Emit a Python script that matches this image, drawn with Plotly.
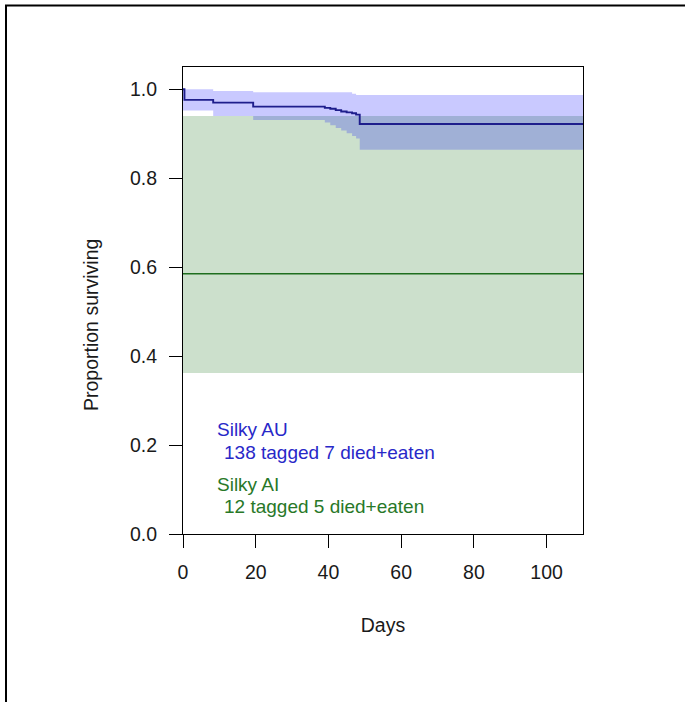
import plotly.graph_objects as go

# Kaplan-Meier survival estimates (step functions) with 95% confidence bands
au_days = [0, 0.4, 8.3, 19.3, 39.0, 40.5, 42.0, 43.5, 45.0, 46.5, 47.6, 48.6, 110]
au_surv = [1.0, 0.976, 0.970, 0.961, 0.958, 0.956, 0.953, 0.950, 0.948, 0.946, 0.943, 0.922, 0.922]

au_upper_days = [0, 8.3, 19.3, 46.5, 47.6, 110]
au_upper = [1.0, 0.996, 0.993, 0.990, 0.987, 0.987]

au_lower_days = [0, 8.3, 19.3, 39.0, 40.5, 42.0, 43.5, 45.0, 46.5, 47.6, 48.6, 110]
au_lower = [0.952, 0.940, 0.931, 0.925, 0.919, 0.913, 0.907, 0.901, 0.895, 0.889, 0.864, 0.864]

ai_days = [0, 110]
ai_surv = [0.585, 0.585]
ai_upper = [0.940, 0.940]
ai_lower = [0.362, 0.362]

x_ticks = [0, 20, 40, 60, 80, 100]
y_ticks = [0.0, 0.2, 0.4, 0.6, 0.8, 1.0]

au_label = ["Silky AU", "138 tagged 7 died+eaten"]
ai_label = ["Silky AI", "12 tagged 5 died+eaten"]

FONT = "Arial, 'Liberation Sans', sans-serif"
BLUE_LINE = "rgb(30,30,140)"
BLUE_FILL = "rgba(0,0,255,0.21)"
BLUE_TEXT = "rgb(40,40,200)"
GREEN_LINE = "rgb(30,110,30)"
GREEN_FILL = "rgba(0,100,0,0.2)"
GREEN_TEXT = "rgb(40,120,40)"
AXIS_TEXT = "#1a1a1a"

fig = go.Figure()

# green confidence band
fig.add_trace(go.Scatter(x=ai_days, y=ai_upper, mode="lines", line=dict(width=0, shape="hv"),
                         hoverinfo="skip", showlegend=False))
fig.add_trace(go.Scatter(x=ai_days, y=ai_lower, mode="lines", line=dict(width=0, shape="hv"),
                         fill="tonexty", fillcolor=GREEN_FILL, hoverinfo="skip", showlegend=False))

# blue confidence band
fig.add_trace(go.Scatter(x=au_upper_days, y=au_upper, mode="lines", line=dict(width=0, shape="hv"),
                         hoverinfo="skip", showlegend=False))
fig.add_trace(go.Scatter(x=au_lower_days, y=au_lower, mode="lines", line=dict(width=0, shape="hv"),
                         fill="tonexty", fillcolor=BLUE_FILL, hoverinfo="skip", showlegend=False))

# survival curves
fig.add_trace(go.Scatter(x=ai_days, y=ai_surv, mode="lines",
                         line=dict(color=GREEN_LINE, width=1.6, shape="hv"),
                         name=ai_label[0], showlegend=False))
fig.add_trace(go.Scatter(x=au_days, y=au_surv, mode="lines",
                         line=dict(color=BLUE_LINE, width=1.9, shape="hv"),
                         name=au_label[0], showlegend=False))

# legend-style text block
text_rows = [
    (au_label[0], 8.9, 0.234, BLUE_TEXT),
    (au_label[1], 10.7, 0.183, BLUE_TEXT),
    (ai_label[0], 8.9, 0.111, GREEN_TEXT),
    (ai_label[1], 10.7, 0.062, GREEN_TEXT),
]
for txt, tx, ty, col in text_rows:
    fig.add_annotation(x=tx, y=ty, xref="x", yref="y", text=txt, showarrow=False,
                       xanchor="left", yanchor="middle",
                       font=dict(family=FONT, size=19, color=col))

ML, MR, MT, MB = 183, 102, 67, 168
W, H = 685, 702
PW, PH = W - ML - MR, H - MT - MB

# y-axis title, placed as a rotated annotation
fig.add_annotation(x=(91 - ML) / PW, y=(H - MB - 325) / PH, xref="paper", yref="paper",
                   text="Proportion surviving", textangle=-90, showarrow=False,
                   xanchor="center", yanchor="middle",
                   font=dict(family=FONT, size=19.5, color=AXIS_TEXT))

# outer device frame (left and top edges visible)
fig.add_shape(type="rect", xref="paper", yref="paper",
              x0=-(ML - 6.0) / PW, x1=1.6,
              y0=-0.6, y1=1 + (MT - 5.5) / PH,
              line=dict(color="black", width=2), fillcolor="rgba(0,0,0,0)", layer="above")

axis_common = dict(showgrid=False, zeroline=False, showline=True, linecolor="black",
                   linewidth=1, mirror=True, ticks="outside", ticklen=13, tickwidth=1,
                   tickcolor="black", tickfont=dict(family=FONT, size=19.5, color=AXIS_TEXT))

fig.update_layout(
    width=W, height=H,
    margin=dict(l=ML, r=MR, t=MT, b=MB, autoexpand=False),
    paper_bgcolor="white", plot_bgcolor="white",
    xaxis=dict(range=[0, 110], tickvals=x_ticks, ticktext=[str(v) for v in x_ticks],
               ticklabelstandoff=8,
               title=dict(text="Days", font=dict(family=FONT, size=19.5, color=AXIS_TEXT), standoff=35),
               **axis_common),
    yaxis=dict(range=[0, 1.05], tickvals=y_ticks, ticktext=[f"{v:.1f}" for v in y_ticks],
               ticklabelstandoff=8, **axis_common),
)

fig.write_html("out.html")
